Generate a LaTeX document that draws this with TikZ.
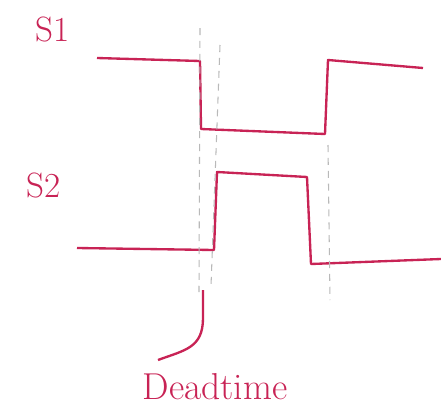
\documentclass[tikz,border=0pt]{standalone}
\usepackage{tikz}
\usetikzlibrary{positioning}
\definecolor{inkred}{RGB}{200,35,85}
\definecolor{pencil}{RGB}{185,185,185}

\begin{document}
\begin{tikzpicture}[
    x=0.03cm, y=-0.03cm,
    wave/.style={draw=inkred, line width=2pt, line join=round},
    guide/.style={draw=pencil, dashed, line width=0.9pt, dash pattern=on 6pt off 5pt},
    lbl/.style={text=inkred, font=\fontsize{30}{32}\selectfont, inner sep=0pt}
]
    \useasboundingbox (0,0) rectangle (441,412);

    \node[lbl] (s1) at (53,29) {S1};
    \node[lbl] (s2) at (44,185) {S2};

    % S1 waveform
    \draw[wave] (97,58) -- (200,61) -- (201,129) -- (325,134) -- (328,60) -- (423,68);

    % S2 waveform
    \draw[wave] (77,248) -- (214,250) -- (217,172) -- (307,177) -- (311,264) -- (441,259);

    % dead time markers
    \draw[guide] (200,28) -- (199,292);
    \draw[guide] (220,45) -- (211,286);
    \draw[guide] (328,145) -- (330,300);

    \node[lbl, font=\fontsize{32}{34}\selectfont] (dt) at (215,387) {Deadtime};
    \coordinate (mark) at (203,290);
    \draw[wave] (mark) -- (203,318) .. controls (203,348) and (185,350) .. (158,360);
\end{tikzpicture}
\end{document}
